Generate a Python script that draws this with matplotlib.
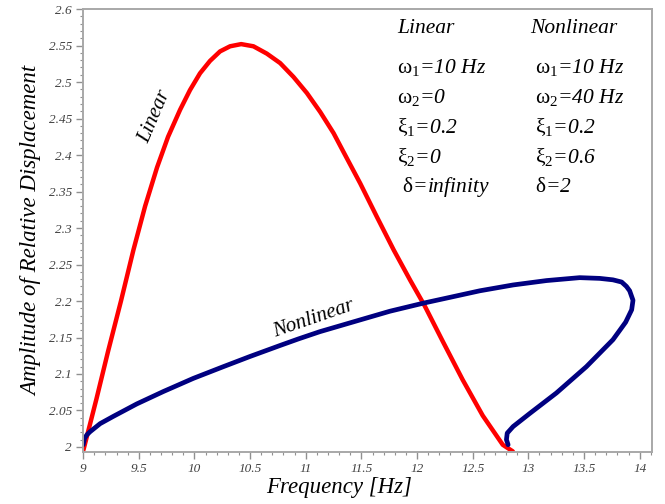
import matplotlib
matplotlib.use('Agg')
import matplotlib.pyplot as plt
from matplotlib.ticker import MultipleLocator, FormatStrFormatter

plt.rcParams['font.family'] = 'Liberation Serif'
plt.rcParams['mathtext.fontset'] = 'custom'
plt.rcParams['mathtext.rm'] = 'Liberation Serif'
plt.rcParams['mathtext.it'] = 'Liberation Serif:italic'

# Linear response
lin_freq = [9.003, 9.12, 9.224, 9.34, 9.452, 9.557, 9.664, 9.763, 9.871, 9.96, 10.05, 10.14,
            10.23, 10.32, 10.42, 10.53, 10.65, 10.77, 10.89, 11.01, 11.13, 11.25, 11.34,
            11.49, 11.64, 11.79, 11.94, 12.07, 12.23, 12.41, 12.59, 12.77, 12.86]
lin_amp = [1.996, 2.066, 2.131, 2.2, 2.270, 2.330, 2.383, 2.425, 2.462, 2.489, 2.512, 2.529,
           2.542, 2.549, 2.552, 2.549, 2.539, 2.526, 2.507, 2.485, 2.459, 2.430, 2.404,
           2.361, 2.315, 2.270, 2.228, 2.193, 2.145, 2.092, 2.043, 2.003, 1.994]

# Nonlinear response (multi-valued branch)
nl_freq = [9.0, 9.013, 9.036, 9.063, 9.153, 9.272, 9.482, 9.721, 9.99, 10.259, 10.499,
           10.768, 10.933, 11.127, 11.486, 11.756, 12.055, 12.295, 12.564, 12.863, 13.163,
           13.461, 13.641, 13.76, 13.838, 13.881, 13.91, 13.94, 13.928, 13.874, 13.76,
           13.521, 13.252, 13.013, 12.863, 12.81, 12.803, 12.818]
nl_amp = [2.003, 2.012, 2.017, 2.021, 2.032, 2.042, 2.059, 2.076, 2.094, 2.110, 2.124,
          2.139, 2.148, 2.158, 2.174, 2.186, 2.197, 2.205, 2.214, 2.222, 2.228,
          2.232, 2.231, 2.229, 2.226, 2.220, 2.214, 2.201, 2.188, 2.171, 2.147,
          2.110, 2.074, 2.046, 2.028, 2.019, 2.010, 2.003]

lin_params = [r'$\mathrm{\omega}_{\mathit{1}}$=10 Hz', r'$\mathrm{\omega}_{\mathit{2}}$=0',
              r'$\mathrm{\xi}_{\mathit{1}}$=0.2', r'$\mathrm{\xi}_{\mathit{2}}$=0',
              r' $\mathrm{\delta}$=infinity']
nl_params = [r'$\mathrm{\omega}_{\mathit{1}}$=10 Hz', r'$\mathrm{\omega}_{\mathit{2}}$=40 Hz',
             r'$\mathrm{\xi}_{\mathit{1}}$=0.2', r'$\mathrm{\xi}_{\mathit{2}}$=0.6',
             r'$\mathrm{\delta}$=2']

fig = plt.figure(figsize=(6.65, 5.04), dpi=100)
ax = fig.add_axes([0.125, 0.103, 0.855, 0.879])

ax.plot(lin_freq, lin_amp, color='#ff0000', lw=3.2, solid_capstyle='round', solid_joinstyle='round')
ax.plot(nl_freq, nl_amp, color='#000080', lw=3.4, solid_capstyle='round', solid_joinstyle='round')

ax.set_xlim(9, 14.108)
ax.set_ylim(1.993, 2.6)
ax.xaxis.set_major_locator(MultipleLocator(0.5))
ax.xaxis.set_minor_locator(MultipleLocator(0.1))
ax.yaxis.set_major_locator(MultipleLocator(0.05))
ax.yaxis.set_minor_locator(MultipleLocator(0.01))
ax.xaxis.set_major_formatter(FormatStrFormatter('%g'))
ax.yaxis.set_major_formatter(FormatStrFormatter('%g'))

for s in ax.spines.values():
    s.set_color('#a8a8a8')
    s.set_linewidth(1.4)
ax.tick_params(which='major', direction='out', length=5, width=1, color='#909090',
               labelsize=9.5, labelcolor='#404040', pad=3)
ax.tick_params(which='minor', direction='out', length=2.5, width=0.8, color='#909090')
for lab in ax.get_xticklabels() + ax.get_yticklabels():
    lab.set_fontstyle('italic')

ax.set_xlabel('Frequency [Hz]', fontsize=16.5, style='italic')
ax.xaxis.set_label_coords(0.45, -0.057)
ax.set_ylabel('Amplitude of Relative Displacement', fontsize=16.5, style='italic', labelpad=5)

# curve labels
ax.text(9.65, 2.453, 'Linear', fontsize=15, style='italic', rotation=67, ha='center', va='center')
ax.text(11.07, 2.175, 'Nonlinear', fontsize=15, style='italic', rotation=19, ha='center', va='center')

# parameter table
ax.text(0.552, 0.957, 'Linear', transform=ax.transAxes, fontsize=15.5, style='italic', va='center')
ax.text(0.786, 0.957, 'Nonlinear', transform=ax.transAxes, fontsize=15.5, style='italic', va='center')
rows_y = [0.869, 0.801, 0.734, 0.666, 0.598]
for i in range(len(rows_y)):
    ax.text(0.552, rows_y[i], lin_params[i], transform=ax.transAxes, fontsize=15.5,
            style='italic', va='center')
    ax.text(0.795, rows_y[i], nl_params[i], transform=ax.transAxes, fontsize=15.5,
            style='italic', va='center')

plt.savefig('out.png', dpi=100)
